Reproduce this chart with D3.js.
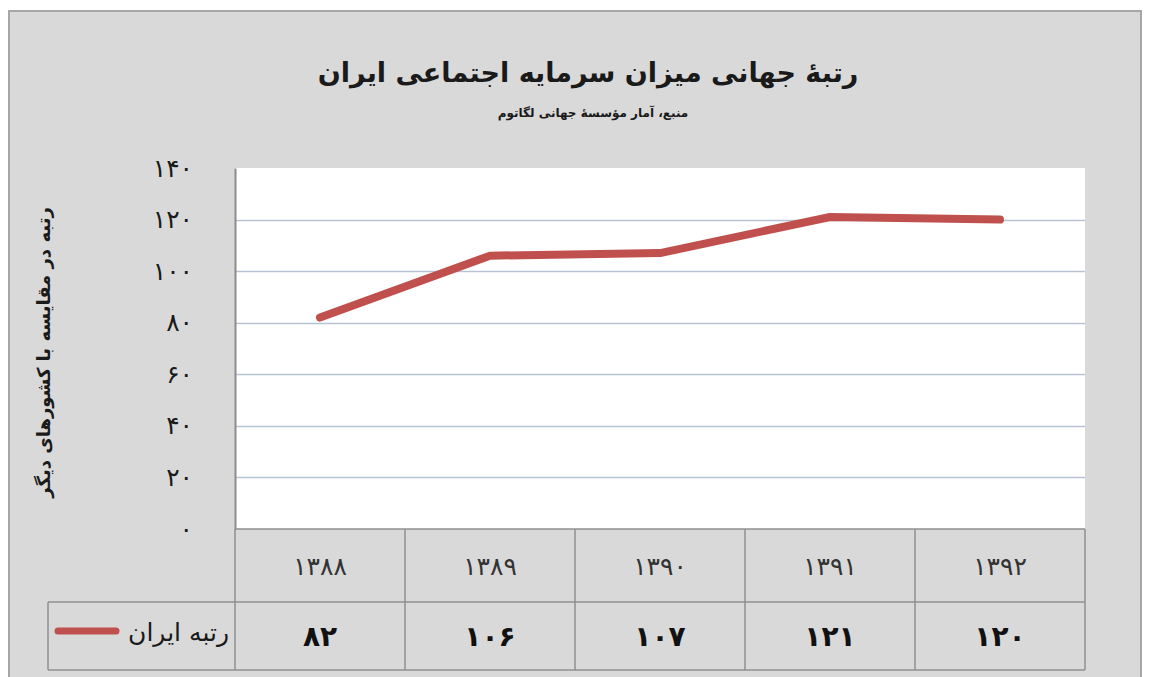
<!DOCTYPE html>
<html lang="fa">
<head>
<meta charset="utf-8">
<script src="https://cdn.jsdelivr.net/npm/d3@7"></script>
<style>
  html, body { margin: 0; padding: 0; background: #ffffff; }
  svg { display: block; }
  text { font-family: "DejaVu Sans", "Noto Sans", sans-serif; }
</style>
</head>
<body>
<svg id="chart" width="1151" height="677"></svg>
<script>
// Chart data
const title = "رتبهٔ جهانی میزان سرمایه اجتماعی ایران";
const subtitle = "منبع، آمار مؤسسهٔ جهانی لگاتوم";
const yAxisTitle = "رتبه در مقایسه با کشورهای دیگر";
const seriesName = "رتبه ایران";
const years = [1388, 1389, 1390, 1391, 1392];
const ranks = [82, 106, 107, 121, 120];
const yTicks = [0, 20, 40, 60, 80, 100, 120, 140];

// Persian digits
const faDigits = "۰۱۲۳۴۵۶۷۸۹";
const fa = n => String(n).replace(/\d/g, d => faDigits[+d]);

const svg = d3.select("#chart");

// frame, plot area and data table edges
const frame = { left: 9, top: 11, right: 1141, bottom: 690 };
const plot = { left: 235, right: 1085, top: 168, bottom: 529 };
const table = { left: 48, catTop: 529, rowTop: 602, bottom: 670 };

svg.append("rect")
  .attr("x", frame.left).attr("y", frame.top)
  .attr("width", frame.right - frame.left).attr("height", frame.bottom - frame.top)
  .attr("fill", "#d9d9d9").attr("stroke", "#a6a6a6").attr("stroke-width", 2);

const x = d3.scaleBand().domain(years).range([plot.left, plot.right]);
const y = d3.scaleLinear().domain([0, 140]).range([plot.bottom, plot.top]);

// plot area
svg.append("rect")
  .attr("x", plot.left).attr("y", plot.top)
  .attr("width", plot.right - plot.left).attr("height", plot.bottom - plot.top)
  .attr("fill", "#ffffff");

// gridlines
svg.append("g")
  .selectAll("line").data(yTicks.filter(t => t > 0 && t < 140)).join("line")
  .attr("x1", plot.left).attr("x2", plot.right)
  .attr("y1", d => Math.round(y(d)) + 0.5).attr("y2", d => Math.round(y(d)) + 0.5)
  .attr("stroke", "#b7c2d2").attr("stroke-width", 1.5);

// y axis
const yAxis = d3.axisLeft(y).tickValues(yTicks).tickFormat(fa).tickSize(0).tickPadding(42);
const gy = svg.append("g").attr("transform", `translate(${plot.left},0)`).call(yAxis);
gy.select(".domain").attr("stroke", "#8c8c8c").attr("stroke-width", 2);
gy.selectAll("text").attr("font-size", 25).attr("fill", "#1a1a1a")
  .attr("font-family", "DejaVu Sans");

// y axis title
svg.append("text")
  .attr("transform", `translate(50,${(plot.top + plot.bottom) / 2 + 4}) rotate(-90)`)
  .attr("text-anchor", "middle")
  .attr("font-size", 18).attr("font-weight", "bold").attr("fill", "#1a1a1a")
  .text(yAxisTitle);

// data table grid
const tg = svg.append("g").attr("stroke", "#8f8f8f").attr("stroke-width", 1.5).attr("fill", "none");
tg.append("line").attr("x1", plot.left).attr("x2", plot.right).attr("y1", table.catTop).attr("y2", table.catTop);
tg.append("line").attr("x1", table.left).attr("x2", plot.right).attr("y1", table.rowTop).attr("y2", table.rowTop);
tg.append("line").attr("x1", table.left).attr("x2", plot.right).attr("y1", table.bottom).attr("y2", table.bottom);
tg.append("line").attr("x1", table.left).attr("x2", table.left).attr("y1", table.rowTop).attr("y2", table.bottom);
tg.selectAll("line.col").data(years.map(d => x(d)).concat([plot.right])).join("line")
  .attr("class", "col")
  .attr("x1", d => d).attr("x2", d => d)
  .attr("y1", table.catTop).attr("y2", table.bottom);

// category labels
svg.append("g").selectAll("text").data(years).join("text")
  .attr("x", d => x(d) + x.bandwidth() / 2)
  .attr("y", (table.catTop + table.rowTop) / 2 + 9)
  .attr("text-anchor", "middle")
  .attr("font-size", 25).attr("fill", "#333333")
  .text(fa);

// values row
svg.append("g").selectAll("text").data(ranks).join("text")
  .attr("x", (d, i) => x(years[i]) + x.bandwidth() / 2)
  .attr("y", (table.rowTop + table.bottom) / 2 + 10)
  .attr("text-anchor", "middle")
  .attr("font-size", 28).attr("font-weight", "bold").attr("fill", "#111111")
  .text(fa);

// legend key in the table
svg.append("line")
  .attr("x1", 58).attr("x2", 116)
  .attr("y1", 631).attr("y2", 631)
  .attr("stroke", "#c0504d").attr("stroke-width", 7).attr("stroke-linecap", "round");
svg.append("text")
  .attr("x", 229).attr("y", 641)
  .attr("text-anchor", "end")
  .attr("font-size", 25).attr("fill", "#1a1a1a")
  .text(seriesName);

// series line
const line = d3.line()
  .x((d, i) => x(years[i]) + x.bandwidth() / 2)
  .y(d => y(d));
svg.append("path")
  .datum(ranks)
  .attr("d", line)
  .attr("fill", "none")
  .attr("stroke", "#c0504d")
  .attr("stroke-width", 8)
  .attr("stroke-linejoin", "round")
  .attr("stroke-linecap", "round");

// title and subtitle
svg.append("text")
  .attr("x", 588).attr("y", 82)
  .attr("text-anchor", "middle")
  .attr("font-size", 27).attr("font-weight", "bold").attr("fill", "#1a1a1a")
  .text(title);
svg.append("text")
  .attr("x", 593).attr("y", 117)
  .attr("text-anchor", "middle")
  .attr("font-size", 12).attr("font-weight", "bold").attr("fill", "#1a1a1a")
  .text(subtitle);
</script>
</body>
</html>
